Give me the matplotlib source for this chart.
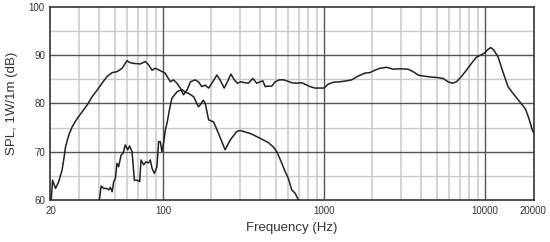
import numpy as np
import matplotlib
matplotlib.use("Agg")
import matplotlib.pyplot as plt

plt.rcParams['font.family'] = ['Liberation Sans', 'DejaVu Sans']

# upper curve (full response)
freq_a = [20.2, 20.6, 21.5, 22.5, 23.6, 24.2, 24.8, 26.0, 27.3, 29.3, 31.5, 33.8,
          36.3, 39.0, 41.8, 44.9, 48.3, 51.8, 55.7, 59.8, 62.0, 65.7, 72.3, 77.6,
          81.4, 85.4, 89.5, 96.2, 103, 111, 116, 122, 128, 134, 141, 148, 158,
          166, 174, 183, 192, 201, 216, 226, 240, 251, 264, 277, 290, 304, 324,
          339, 361, 382, 401, 417, 431, 451, 474, 497, 528, 559, 587, 630, 676,
          726, 762, 818, 878, 943, 999, 1062, 1141, 1256, 1382, 1484, 1631, 1795,
          1928, 2070, 2223, 2446, 2688, 2957, 3330, 3576, 3841, 4125, 4539, 4994,
          5488, 5894, 6277, 6646, 7137, 7665, 8232, 8841, 9495, 9953, 10433,
          10841, 11316, 12034, 12814, 13882, 14909, 16398, 17864, 18727, 19657,
          20000]
spl_a = [60.0, 64.1, 62.4, 63.8, 66.2, 68.5, 71.0, 73.5, 75.2, 76.9, 78.3, 79.7,
         81.4, 82.8, 84.2, 85.6, 86.4, 86.6, 87.3, 88.9, 88.5, 88.3, 88.2, 88.7,
         88.0, 86.9, 87.3, 86.8, 86.3, 84.5, 84.9, 84.2, 83.2, 81.8, 82.8, 84.5,
         84.9, 84.5, 83.5, 83.8, 83.2, 84.2, 85.9, 84.9, 83.2, 84.5, 86.1, 84.9,
         84.2, 84.5, 84.3, 84.2, 85.2, 84.2, 84.5, 84.7, 83.5, 83.6, 83.6, 84.5,
         84.9, 84.9, 84.7, 84.3, 84.2, 84.3, 84.0, 83.5, 83.2, 83.2, 83.2, 84.0,
         84.4, 84.5, 84.7, 84.9, 85.7, 86.3, 86.4, 86.9, 87.3, 87.5, 87.1, 87.2,
         87.1, 86.6, 85.9, 85.7, 85.5, 85.4, 85.2, 84.5, 84.2, 84.5, 85.6, 86.9,
         88.3, 89.6, 90.1, 90.5, 91.2, 91.6, 91.1, 89.7, 86.9, 83.5, 82.1, 80.4,
         78.8, 76.9, 74.5, 74.0]

# lower curve
freq_b = [40.2, 41.3, 42.8, 44.5, 46.0, 47.1, 48.3, 49.4, 50.6, 51.8, 53.0, 54.9,
          56.5, 58.3, 60.3, 62.0, 64.2, 66.4, 69.0, 71.6, 73.0, 75.8, 78.4, 81.4,
          83.4, 85.4, 88.3, 91.7, 93.9, 96.2, 98.5, 100.8, 103.3, 106, 110, 113.6,
          122, 131, 137, 144, 155, 166, 170, 178, 183, 192, 206, 221, 243, 261,
          287, 301, 348, 400, 451, 484, 509, 547, 573, 600, 630, 661, 692]
spl_b = [60.0, 62.9, 62.4, 62.4, 62.1, 62.6, 61.7, 63.8, 64.5, 67.6, 66.9, 69.3,
         69.7, 71.4, 70.4, 71.2, 70.0, 64.1, 64.1, 63.8, 68.3, 67.3, 67.9, 67.7,
         68.3, 66.6, 65.5, 66.9, 72.1, 72.1, 70.0, 71.8, 74.5, 76.0, 79.0, 81.1,
         82.4, 82.9, 82.4, 82.1, 81.4, 79.3, 79.7, 80.7, 80.0, 76.6, 76.2, 73.8,
         70.4, 72.4, 74.2, 74.4, 73.8, 72.8, 71.9, 71.0, 70.0, 67.6, 65.9, 64.5,
         62.1, 61.4, 60.1]

xticks = [20, 100, 1000, 10000, 20000]
yticks = [60, 70, 80, 90, 100]

fig = plt.figure(figsize=(5.5, 2.42), dpi=100)
ax = fig.add_axes([0.0918, 0.1736, 0.8782, 0.7975])

ax.set_xscale('log')
ax.set_xlim(20, 20000)
ax.set_ylim(60, 100)

# minor grid
minor_x = [m * d for d in (10, 100, 1000, 10000) for m in range(2, 10)]
minor_x = [v for v in minor_x if 20 < v < 20000]
for v in minor_x:
    ax.axvline(v, color='#d0d0d0', lw=1.3, zorder=1)
for v in (65, 75, 85, 95):
    ax.axhline(v, color='#c8c8c8', lw=1.0, zorder=1)
for v in (100, 1000, 10000):
    ax.axvline(v, color='#555555', lw=1.0, zorder=2)
for v in (70, 80, 90):
    ax.axhline(v, color='#555555', lw=1.0, zorder=2)

ax.plot(freq_a, spl_a, color='#222222', lw=1.1, zorder=3)
ax.plot(freq_b, spl_b, color='#222222', lw=1.1, zorder=3)

ax.set_xticks(xticks)
ax.set_xticklabels([str(t) for t in xticks])
ax.xaxis.set_minor_locator(matplotlib.ticker.NullLocator())
ax.set_yticks(yticks)
ax.tick_params(length=0, labelsize=7, colors='#333333', pad=4)

for s in ax.spines.values():
    s.set_color('#333333')
    s.set_linewidth(1.2)

ax.set_xlabel('Frequency (Hz)', fontsize=9.5, color='#333333', labelpad=5)
ax.set_ylabel('SPL, 1W/1m (dB)', fontsize=9.5, color='#333333', labelpad=8)

fig.savefig('out.png', dpi=100)
